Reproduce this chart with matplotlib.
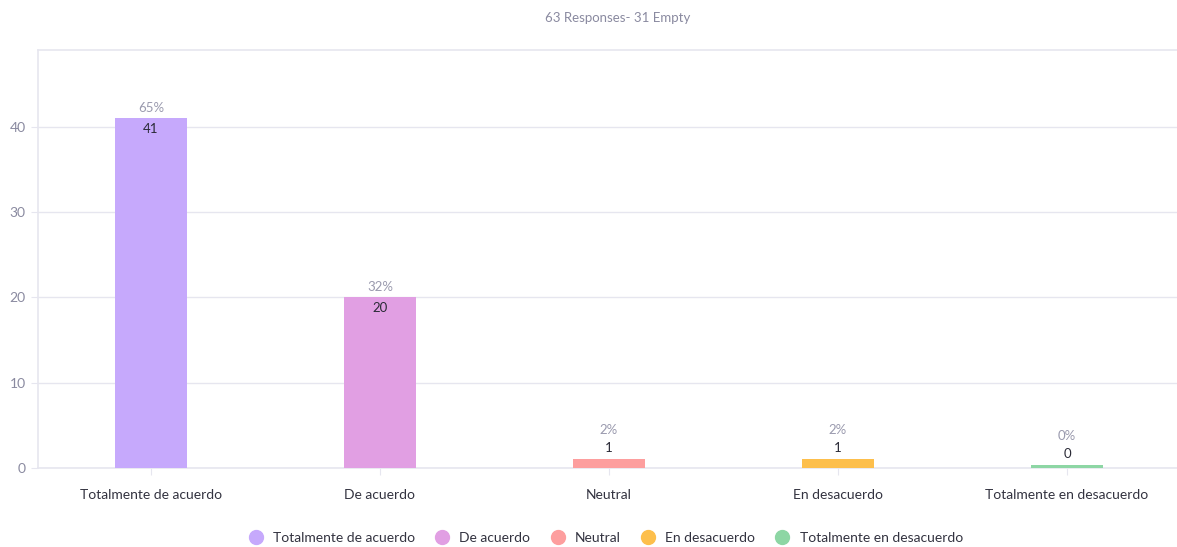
import matplotlib
matplotlib.use("Agg")
import matplotlib.pyplot as plt

categories = ["Totalmente de acuerdo", "De acuerdo", "Neutral", "En desacuerdo", "Totalmente en desacuerdo"]
counts = [41, 20, 1, 1, 0]
percents = ["65%", "32%", "2%", "2%", "0%"]
colors = ["#c6a9fc", "#e19fe3", "#fd9e9e", "#fdbf4c", "#8dd6a4"]
title = "63 Responses- 31 Empty"

plt.rcParams['font.family'] = ['Lato', 'DejaVu Sans']

fig = plt.figure(figsize=(11.77, 5.47), dpi=100)
ax = fig.add_axes([38/1177, 1 - 468/547, 1160/1177, (468 - 50)/547])

grid_c = "#e6e6ef"
x = list(range(len(categories)))
# zero-value bars still get a thin visible stub, like the original
heights = [c if c > 0 else 0.35 for c in counts]
ax.bar(x, heights, width=0.315, color=colors, zorder=3)

for xi, c, h, p in zip(x, counts, heights, percents):
    if c >= 5:
        cnt_off, pct_off = -11, 10
    else:
        cnt_off, pct_off = 11, 29
    ax.annotate(str(c), (xi, h), xytext=(0, cnt_off), textcoords="offset pixels",
                ha="center", va="center", fontsize=9.5, color="#2a2a36", zorder=4)
    ax.annotate(p, (xi, h), xytext=(0, pct_off), textcoords="offset pixels",
                ha="center", va="center", fontsize=9.5, color="#9a9aae", zorder=4)

ax.set_xlim(-0.493, 4.572)
ax.set_ylim(0, 49)
ax.set_yticks([0, 10, 20, 30, 40])
ax.set_xticks(x)
ax.set_xticklabels(categories, fontsize=10, color="#333340")
ax.tick_params(axis="y", labelsize=10, labelcolor="#8a8aa0", color=grid_c, length=5, pad=4)
ax.tick_params(axis="x", color=grid_c, length=5, pad=10)
ax.grid(axis="y", color=grid_c, linewidth=1, zorder=0)
for s in ["left", "bottom", "top"]:
    ax.spines[s].set_color(grid_c)
    ax.spines[s].set_linewidth(1.2)
ax.spines["right"].set_visible(False)

ax.set_title(title, fontsize=9.5, color="#8a8aa0", pad=20)

handles = [plt.Line2D([], [], marker="o", linestyle="", markersize=10,
                      markerfacecolor=c, markeredgecolor=c) for c in colors]
fig.legend(handles, categories, loc="center", bbox_to_anchor=(604/1177, 1 - 538/547),
           ncol=5, frameon=False, fontsize=10, handletextpad=0.5, columnspacing=1.2,
           handlelength=1.5, labelcolor="#333340")

fig.savefig("out.png", dpi=100, facecolor="white")
